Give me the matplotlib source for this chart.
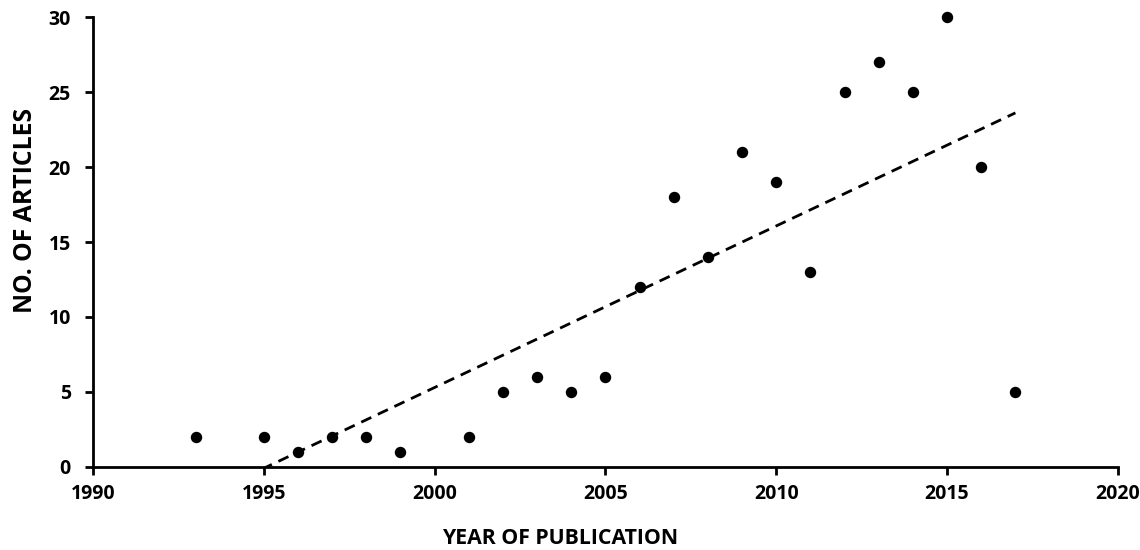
#!/usr/bin/env python3
"""
plot.py
Scatter of articles per publication year with a linear trend line
"""

import numpy as np
import matplotlib
matplotlib.use('Agg')
import matplotlib.pyplot as plt

years = [1993, 1995, 1996, 1997, 1998, 1999, 2001, 2002, 2003, 2004, 2005, 2006,
         2007, 2008, 2009, 2010, 2011, 2012, 2013, 2014, 2015, 2016, 2017]
articles = [2, 2, 1, 2, 2, 1, 2, 5, 6, 5, 6, 12,
            18, 14, 21, 19, 13, 25, 27, 25, 30, 20, 5]
x_ticks = [1990, 1995, 2000, 2005, 2010, 2015, 2020]
y_ticks = [0, 5, 10, 15, 20, 25, 30]

plt.rcParams['font.family'] = ['Open Sans', 'DejaVu Sans']
plt.rcParams['font.weight'] = 'bold'

fig = plt.figure(figsize=(11.4, 5.5), dpi=100)
ax = fig.add_axes([0.0816, 0.151, 0.899, 0.818])

ax.scatter(years, articles, s=52, color='black', zorder=3, clip_on=False)

# linear trend (least squares), drawn over the data range
slope, icpt = np.polyfit(years, articles, 1)
tx = np.array([min(years), max(years)])
ax.plot(tx, slope * tx + icpt, color='black', linestyle=(0, (4, 2.6)), linewidth=2)

ax.set_xlim(1990, 2020)
ax.set_ylim(0, 30)
ax.set_xticks(x_ticks)
ax.set_yticks(y_ticks)
ax.tick_params(axis='both', direction='out', length=6, width=2, labelsize=14)
ax.tick_params(axis='x', pad=6)
ax.tick_params(axis='y', pad=10)
for lbl in ax.get_xticklabels() + ax.get_yticklabels():
    lbl.set_fontweight('bold')

for side in ['top', 'right']:
    ax.spines[side].set_visible(False)
for side in ['left', 'bottom']:
    ax.spines[side].set_linewidth(2)

ax.set_xlabel('YEAR OF PUBLICATION', fontsize=15.3, fontweight='bold')
ax.set_ylabel('NO. OF ARTICLES', fontsize=17.8, fontweight='bold')
ax.xaxis.set_label_coords(0.456, -0.135)
ax.yaxis.set_label_coords(-0.054, 0.571)

fig.savefig('out.png', dpi=100)
